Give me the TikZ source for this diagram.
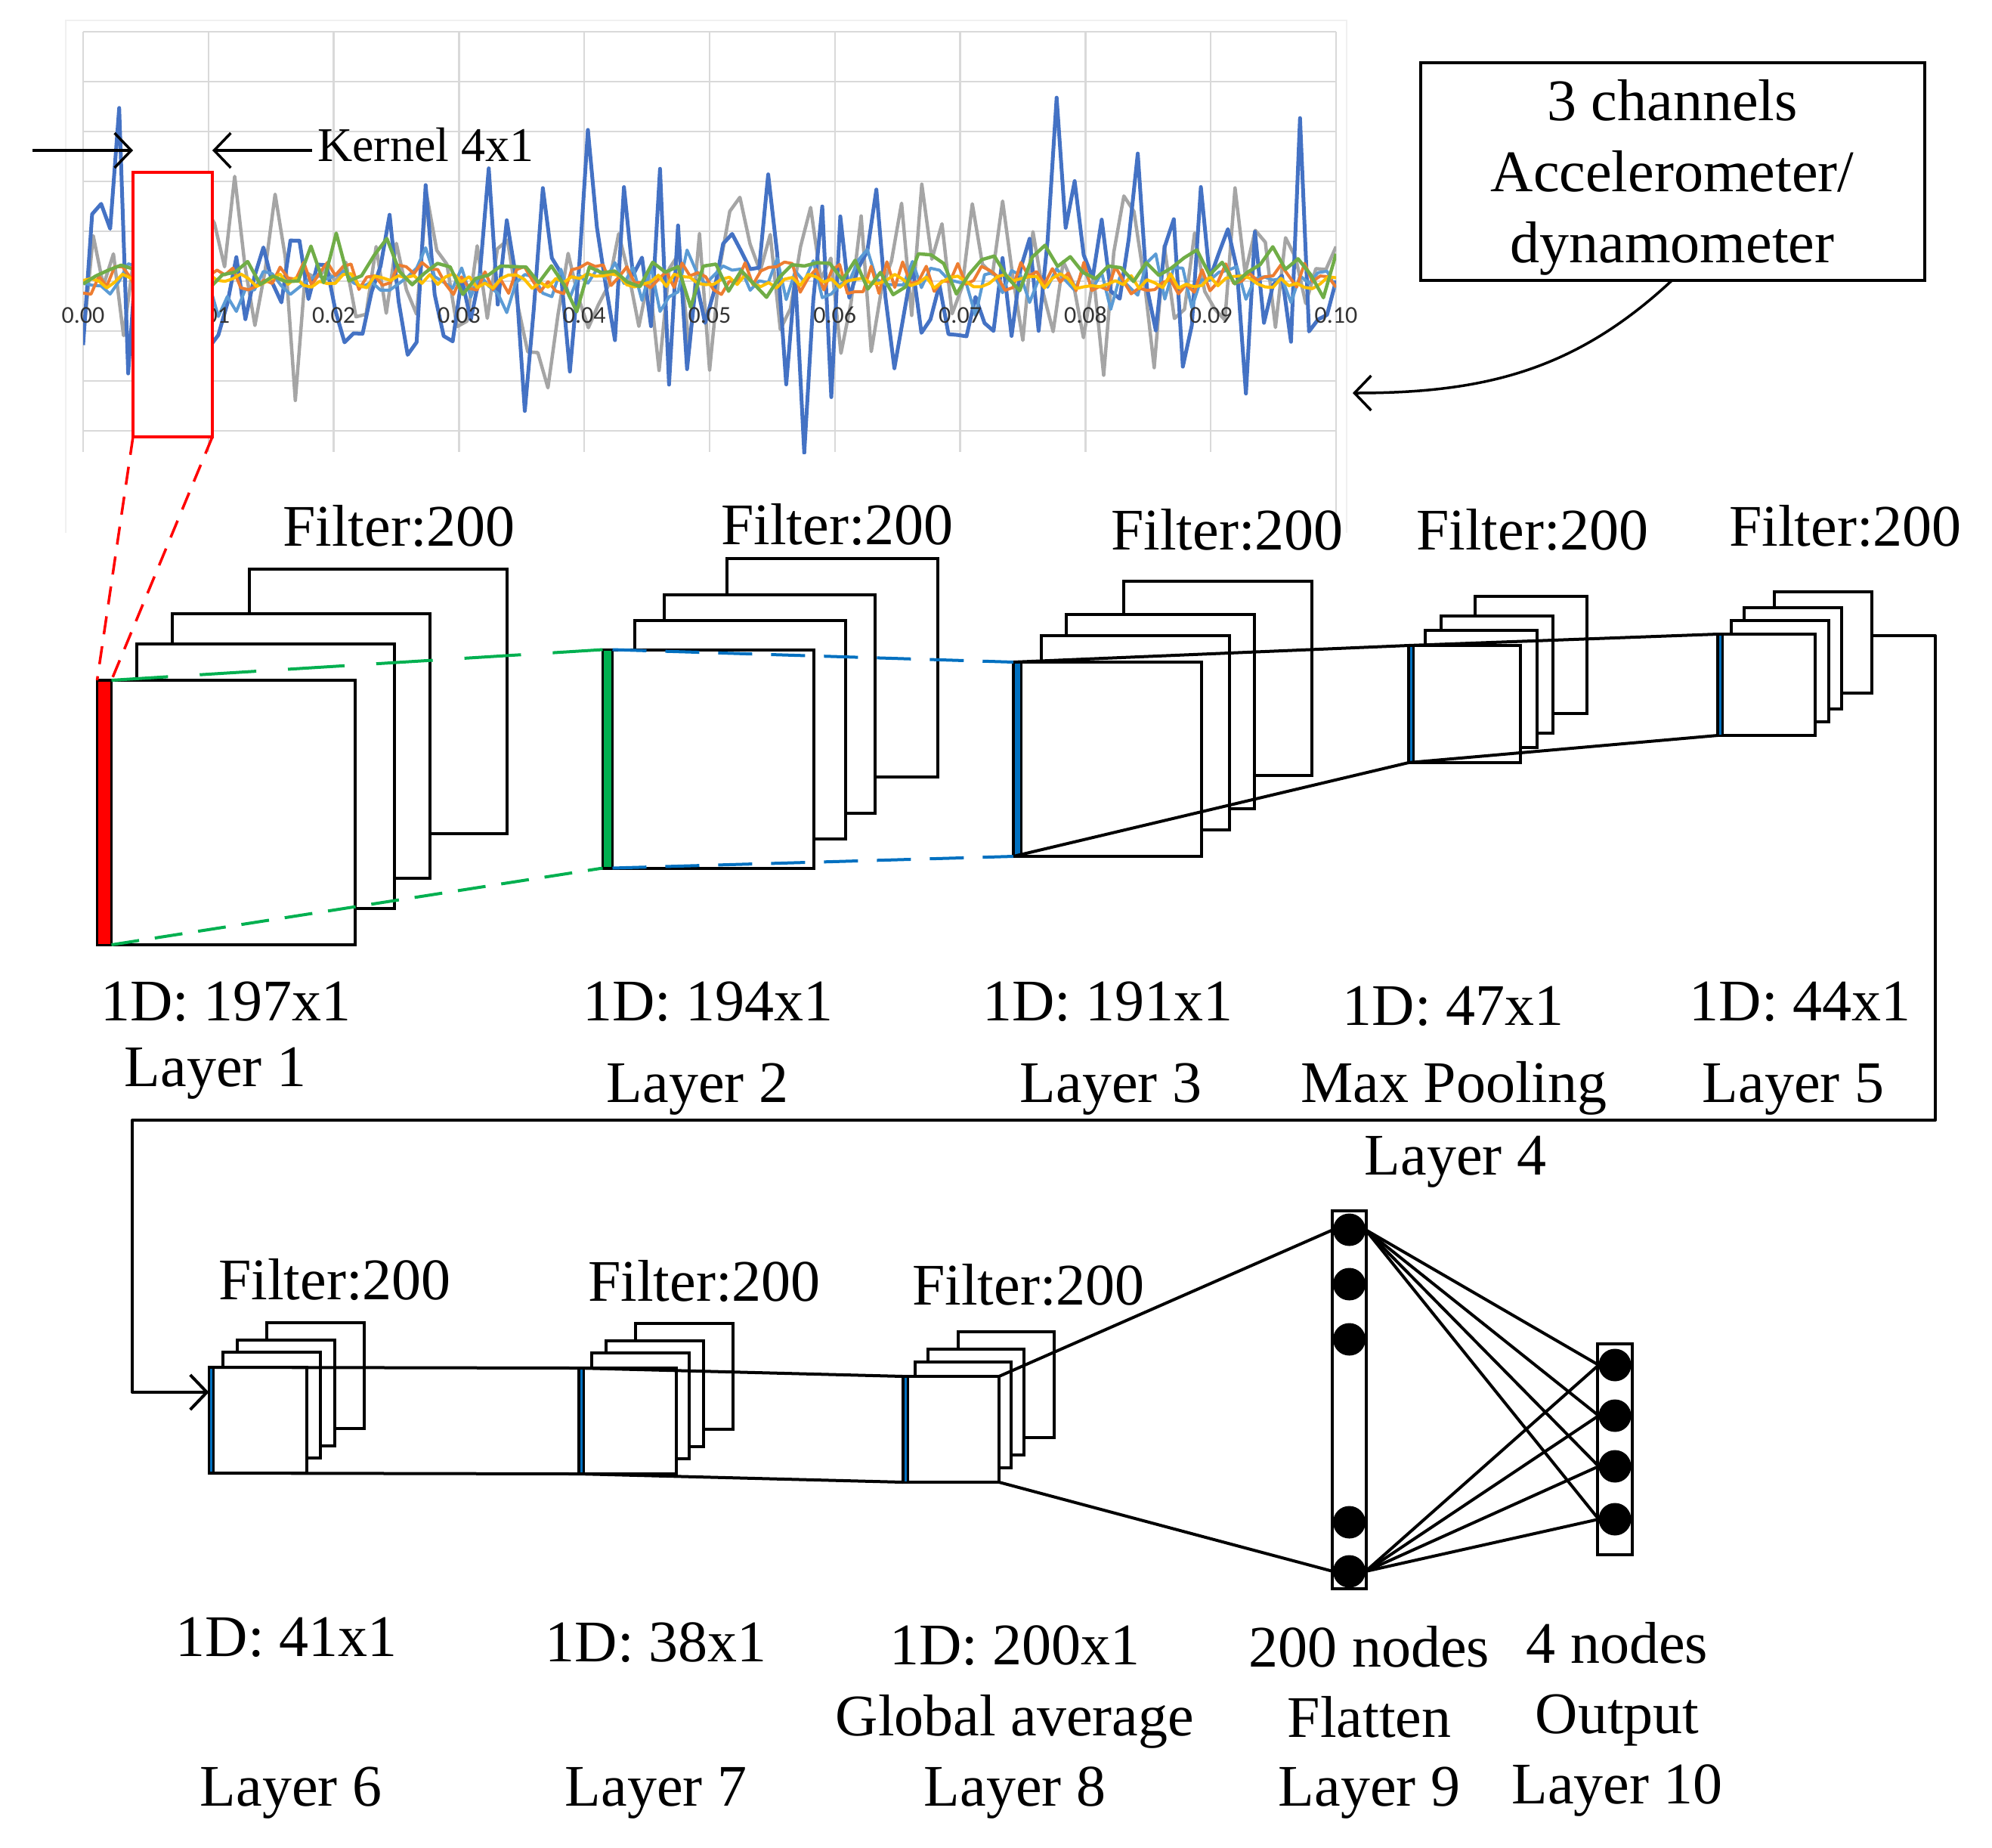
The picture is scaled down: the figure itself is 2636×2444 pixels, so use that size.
\documentclass[tikz,border=0pt]{standalone}
\usepackage{fontspec}
\setmainfont{Liberation Serif}
\newfontfamily\chartfont{Carlito}
\usetikzlibrary{arrows.meta}
\definecolor{xlblue}{RGB}{68,114,196}
\definecolor{xlgray}{RGB}{165,165,165}
\definecolor{xlorange}{RGB}{237,125,49}
\definecolor{xlyellow}{RGB}{255,192,0}
\definecolor{xlgreen}{RGB}{112,173,71}
\definecolor{xllblue}{RGB}{91,155,213}
\definecolor{gridgray}{RGB}{217,217,217}
\definecolor{framegray}{RGB}{240,240,240}
\definecolor{dashgreen}{RGB}{0,176,80}
\definecolor{dashblue}{RGB}{0,112,192}
\begin{document}
\begin{tikzpicture}[x=1pt,y=-1pt,
  fmap/.style={draw=black, fill=white, line width=4pt, inner sep=0pt, outer sep=0pt, anchor=north west},
  fbar/.style={draw=black, fill=#1, line width=3pt, inner sep=0pt, outer sep=0pt, anchor=north west},
  lbl/.style={anchor=base, inner sep=0pt, font=\fontsize{78}{94}\selectfont},
  conn/.style={line width=4pt, line join=round},
  barb/.style={-{Straight Barb[length=22pt,width=46pt]}},
  neuron/.style={circle, fill=black, draw=none, minimum size=43pt, inner sep=0pt, outer sep=0pt},
  sig/.style={line width=#1, line join=round},
  tick/.style={font=\chartfont\fontsize{32}{32}\selectfont, text=black!80, inner sep=0pt}
]
\useasboundingbox (0,0) rectangle (2636,2444);

% ---------------- signal chart ----------------
\draw[framegray, line width=2pt] (87,705) -- (87,27) -- (1782,27) -- (1782,705);
\foreach \k in {0,...,8} \draw[gridgray, line width=2.5pt] (110,{42+66*\k}) -- (1768,{42+66*\k});
\foreach \k in {0,...,9} \draw[gridgray, line width=2.5pt] ({110+165.8*\k},42) -- ({110+165.8*\k},598);
\draw[gridgray, line width=2.5pt] (1768,42) -- (1768,705);

\begin{scope}
\clip (110,40) rectangle (1768,600);
\pgfmathsetseed{12}
\draw[xlgray, sig=4.5pt] plot[domain=110:1768, samples=125, variable=\t] (\t, {366+60*rand+140*pow(rand,3)});
\draw[xlblue, sig=5pt] plot[domain=110:1768, samples=140, variable=\t] (\t, {366+85*rand+180*pow(rand,3)});
\draw[xllblue, sig=4pt] plot[domain=110:1768, samples=140, variable=\t] (\t, {372+20*rand+35*pow(rand,3)});
\draw[xlorange, sig=4pt] plot[domain=110:1768, samples=160, variable=\t] (\t, {368+22*rand});
\draw[xlyellow, sig=4pt] plot[domain=110:1768, samples=160, variable=\t] (\t, {372+10*rand});
\draw[xlgreen, sig=4.5pt] plot[domain=110:1768, samples=100, variable=\t] (\t, {360+25*rand+30*pow(rand,3)});
\end{scope}

\foreach \i/\lab in {0/0.00,1/0.01,2/0.02,3/0.03,4/0.04,5/0.05,6/0.06,7/0.07,8/0.08,9/0.09,10/0.10}
  \node[tick] (tick\i) at ({110+165.8*\i},417) {\lab};

% kernel window
\node[draw=red, fill=white, line width=4pt, inner sep=0pt, outer sep=0pt,
      minimum width=105pt, minimum height=350pt, anchor=north west] (kbox) at (176,228) {};
\node[anchor=base west, inner sep=0pt, font=\fontsize{64}{70}\selectfont] (ktext) at (420,213) {Kernel 4x1};
\coordinate (kL) at (43,199);
\coordinate (kR) at (413,199);
\draw[conn, line width=3.5pt, barb] (kL) -- (kbox.north west |- kL);
\draw[conn, line width=3.5pt, barb] (kR) -- (kbox.north east |- kR);

% channel box
\node[draw=black, line width=4pt, inner sep=0pt, outer sep=0pt, minimum width=667pt, minimum height=288pt,
      align=center, font=\fontsize{78}{94}\selectfont] (chan) at (2213,226.5) {\rule{0pt}{70pt}3 channels\\Accelerometer/\\dynamometer};
\coordinate (sigIn) at (1790,520);
\draw[conn, line width=3.5pt, barb] (chan.south) to[out=223, in=0] (sigIn);

% ---------------- Layer 1 ----------------
\node[fmap, minimum width=341pt, minimum height=350pt] (l1c) at (330,753) {};
\node[fmap, minimum width=341pt, minimum height=350pt] (l1b) at (228,812) {};
\node[fmap, minimum width=341pt, minimum height=350pt] (l1a) at (181,852) {};
\node[fmap, minimum width=341pt, minimum height=350pt] (l1) at (128.5,900) {};
\node[fbar=red, minimum width=19pt, minimum height=350pt] (b1) at (128.5,900) {};

% ---------------- Layer 2 ----------------
\node[fmap, minimum width=279pt, minimum height=289pt] (l2c) at (962,739) {};
\node[fmap, minimum width=279pt, minimum height=289pt] (l2b) at (879,787) {};
\node[fmap, minimum width=279pt, minimum height=289pt] (l2a) at (840,820.5) {};
\node[fmap, minimum width=279pt, minimum height=289pt] (l2) at (797.5,859.5) {};
\node[fbar=dashgreen, minimum width=13pt, minimum height=289pt] (b2) at (797.5,859.5) {};

% ---------------- Layer 3 ----------------
\node[fmap, minimum width=249pt, minimum height=257pt] (l3c) at (1487,769) {};
\node[fmap, minimum width=249pt, minimum height=257pt] (l3b) at (1411,812.5) {};
\node[fmap, minimum width=249pt, minimum height=257pt] (l3a) at (1378,841) {};
\node[fmap, minimum width=249pt, minimum height=257pt] (l3) at (1341,876) {};
\node[fbar=dashblue, minimum width=10pt, minimum height=257pt] (b3) at (1341,876) {};

% ---------------- Layer 4 ----------------
\node[fmap, minimum width=148pt, minimum height=155pt] (l4c) at (1952,789) {};
\node[fmap, minimum width=148pt, minimum height=155pt] (l4b) at (1907,815) {};
\node[fmap, minimum width=148pt, minimum height=155pt] (l4a) at (1886,834) {};
\node[fmap, minimum width=148pt, minimum height=155pt] (l4) at (1864,854) {};
\node[fbar=dashblue, minimum width=6pt, minimum height=155pt] (b4) at (1864,854) {};

% ---------------- Layer 5 ----------------
\node[fmap, minimum width=129pt, minimum height=134pt] (l5c) at (2348,783) {};
\node[fmap, minimum width=129pt, minimum height=134pt] (l5b) at (2308,804) {};
\node[fmap, minimum width=129pt, minimum height=134pt] (l5a) at (2291,820.5) {};
\node[fmap, minimum width=129pt, minimum height=134pt] (l5) at (2273,839) {};
\node[fbar=dashblue, minimum width=6pt, minimum height=134pt] (b5) at (2273,839) {};

% ---------------- Layer 6 ----------------
\node[fmap, minimum width=129pt, minimum height=140pt] (l6c) at (353,1750) {};
\node[fmap, minimum width=129pt, minimum height=140pt] (l6b) at (314,1773) {};
\node[fmap, minimum width=129pt, minimum height=140pt] (l6a) at (295,1789) {};
\node[fmap, minimum width=129pt, minimum height=140pt] (l6) at (276.5,1809) {};
\node[fbar=dashblue, minimum width=6pt, minimum height=140pt] (b6) at (276.5,1809) {};

% ---------------- Layer 7 ----------------
\node[fmap, minimum width=129pt, minimum height=140pt] (l7c) at (840.5,1751) {};
\node[fmap, minimum width=129pt, minimum height=140pt] (l7b) at (802,1773.5) {};
\node[fmap, minimum width=129pt, minimum height=140pt] (l7a) at (783,1790) {};
\node[fmap, minimum width=129pt, minimum height=140pt] (l7) at (766,1810) {};
\node[fbar=dashblue, minimum width=6pt, minimum height=140pt] (b7) at (766,1810) {};

% ---------------- Layer 8 ----------------
\node[fmap, minimum width=127pt, minimum height=140pt] (l8c) at (1268,1762) {};
\node[fmap, minimum width=127pt, minimum height=140pt] (l8b) at (1228,1784.5) {};
\node[fmap, minimum width=127pt, minimum height=140pt] (l8a) at (1211,1802) {};
\node[fmap, minimum width=127pt, minimum height=140pt] (l8) at (1195,1821) {};
\node[fbar=dashblue, minimum width=6pt, minimum height=140pt] (b8) at (1195,1821) {};

% ---------------- Flatten & output ----------------
\node[fmap, line width=3.5pt, minimum width=45pt, minimum height=500pt] (flat) at (1763,1602) {};
\node[neuron] (f1) at (1785.5,1627) {};
\node[neuron] (f2) at (1785.5,1699) {};
\node[neuron] (f3) at (1785.5,1772) {};
\node[neuron] (f4) at (1785.5,2014) {};
\node[neuron] (f5) at (1785.5,2079) {};
\node[fmap, line width=3.5pt, minimum width=46pt, minimum height=279pt] (outb) at (2114,1778) {};
\node[neuron] (o1) at (2137,1806) {};
\node[neuron] (o2) at (2137,1873) {};
\node[neuron] (o3) at (2137,1940) {};
\node[neuron] (o4) at (2137,2010) {};

% ---------------- connectors ----------------
\draw[red, line width=3.5pt, dash pattern=on 24pt off 16pt] (kbox.south west) -- (b1.north west);
\draw[red, line width=3.5pt, dash pattern=on 24pt off 16pt] (kbox.south east) -- (b1.north east);
\draw[dashgreen, line width=4pt, dash pattern=on 75pt off 42pt] (b1.north east) -- (b2.north west);
\draw[dashgreen, line width=4pt, dash pattern=on 37pt off 21pt] (b1.south east) -- (b2.south west);
\draw[dashblue, line width=4pt, dash pattern=on 45pt off 25pt] (b2.north east) -- (b3.north west);
\draw[dashblue, line width=4pt, dash pattern=on 45pt off 25pt] (b2.south east) -- (b3.south west);
\draw[conn] (b3.north west) -- (b4.north west);
\draw[conn] (b3.south west) -- (b4.south west);
\draw[conn] (b4.north west) -- (b5.north west);
\draw[conn] (b4.south west) -- (b5.south west);

\coordinate (tA) at (2561,841);
\coordinate (tB) at (2561,1482);
\coordinate (tC) at (175,1482);
\coordinate (tD) at (175,1842);
\draw[conn, barb] (l5c.east |- tA) -- (tA) -- (tB) -- (tC) -- (tD) -- (b6.west |- tD);

\draw[conn] (b6.north west) -- (b7.north west);
\draw[conn] (b6.south west) -- (b7.south west);
\draw[conn] (b7.north west) -- (b8.north west);
\draw[conn] (b7.south west) -- (b8.south west);
\draw[conn] (l8.north east) -- (f1.west);
\draw[conn] (l8.south east) -- (f5.west);
\foreach \o in {o1,o2,o3,o4} {
  \draw[conn] (f1.east) -- (\o.west);
  \draw[conn] (f5.east) -- (\o.west);
}

% ---------------- labels ----------------
\node[lbl] (fl1) at (528,722) {Filter:200};
\node[lbl] (fl2) at (1108,720) {Filter:200};
\node[lbl] (fl3) at (1624,727) {Filter:200};
\node[lbl] (fl4) at (2028,727) {Filter:200};
\node[lbl] (fl5) at (2442,722) {Filter:200};

\node[lbl] (d1) at (299,1350) {1D: 197x1};
\node[lbl] (n1) at (285,1437) {Layer 1};
\node[lbl] (d2) at (937,1350) {1D: 194x1};
\node[lbl] (n2) at (923,1458) {Layer 2};
\node[lbl] (d3) at (1466,1350) {1D: 191x1};
\node[lbl] (n3) at (1470,1458) {Layer 3};
\node[lbl] (d4) at (1923,1356) {1D: 47x1};
\node[lbl] (m4) at (1924,1458) {Max Pooling};
\node[lbl] (n4) at (1926,1554) {Layer 4};
\node[lbl] (d5) at (2382,1350) {1D: 44x1};
\node[lbl] (n5) at (2373,1458) {Layer 5};

\node[lbl] (fl6) at (443,1719) {Filter:200};
\node[lbl] (fl7) at (932,1721) {Filter:200};
\node[lbl] (fl8) at (1361,1726) {Filter:200};

\node[lbl] (d6) at (379,2191) {1D: 41x1};
\node[lbl] (d7) at (868,2198) {1D: 38x1};
\node[lbl] (d8) at (1343,2202) {1D: 200x1};
\node[lbl] (d9) at (1812,2205) {200 nodes};
\node[lbl] (d10) at (2140,2200) {4 nodes};
\node[lbl] (g8) at (1343,2296) {Global average};
\node[lbl] (g9) at (1812,2298) {Flatten};
\node[lbl] (g10) at (2140,2293) {Output};
\node[lbl] (n6) at (385,2389) {Layer 6};
\node[lbl] (n7) at (868,2389) {Layer 7};
\node[lbl] (n8) at (1343,2389) {Layer 8};
\node[lbl] (n9) at (1812,2389) {Layer 9};
\node[lbl] (n10) at (2140,2386) {Layer 10};
\end{tikzpicture}
\end{document}
